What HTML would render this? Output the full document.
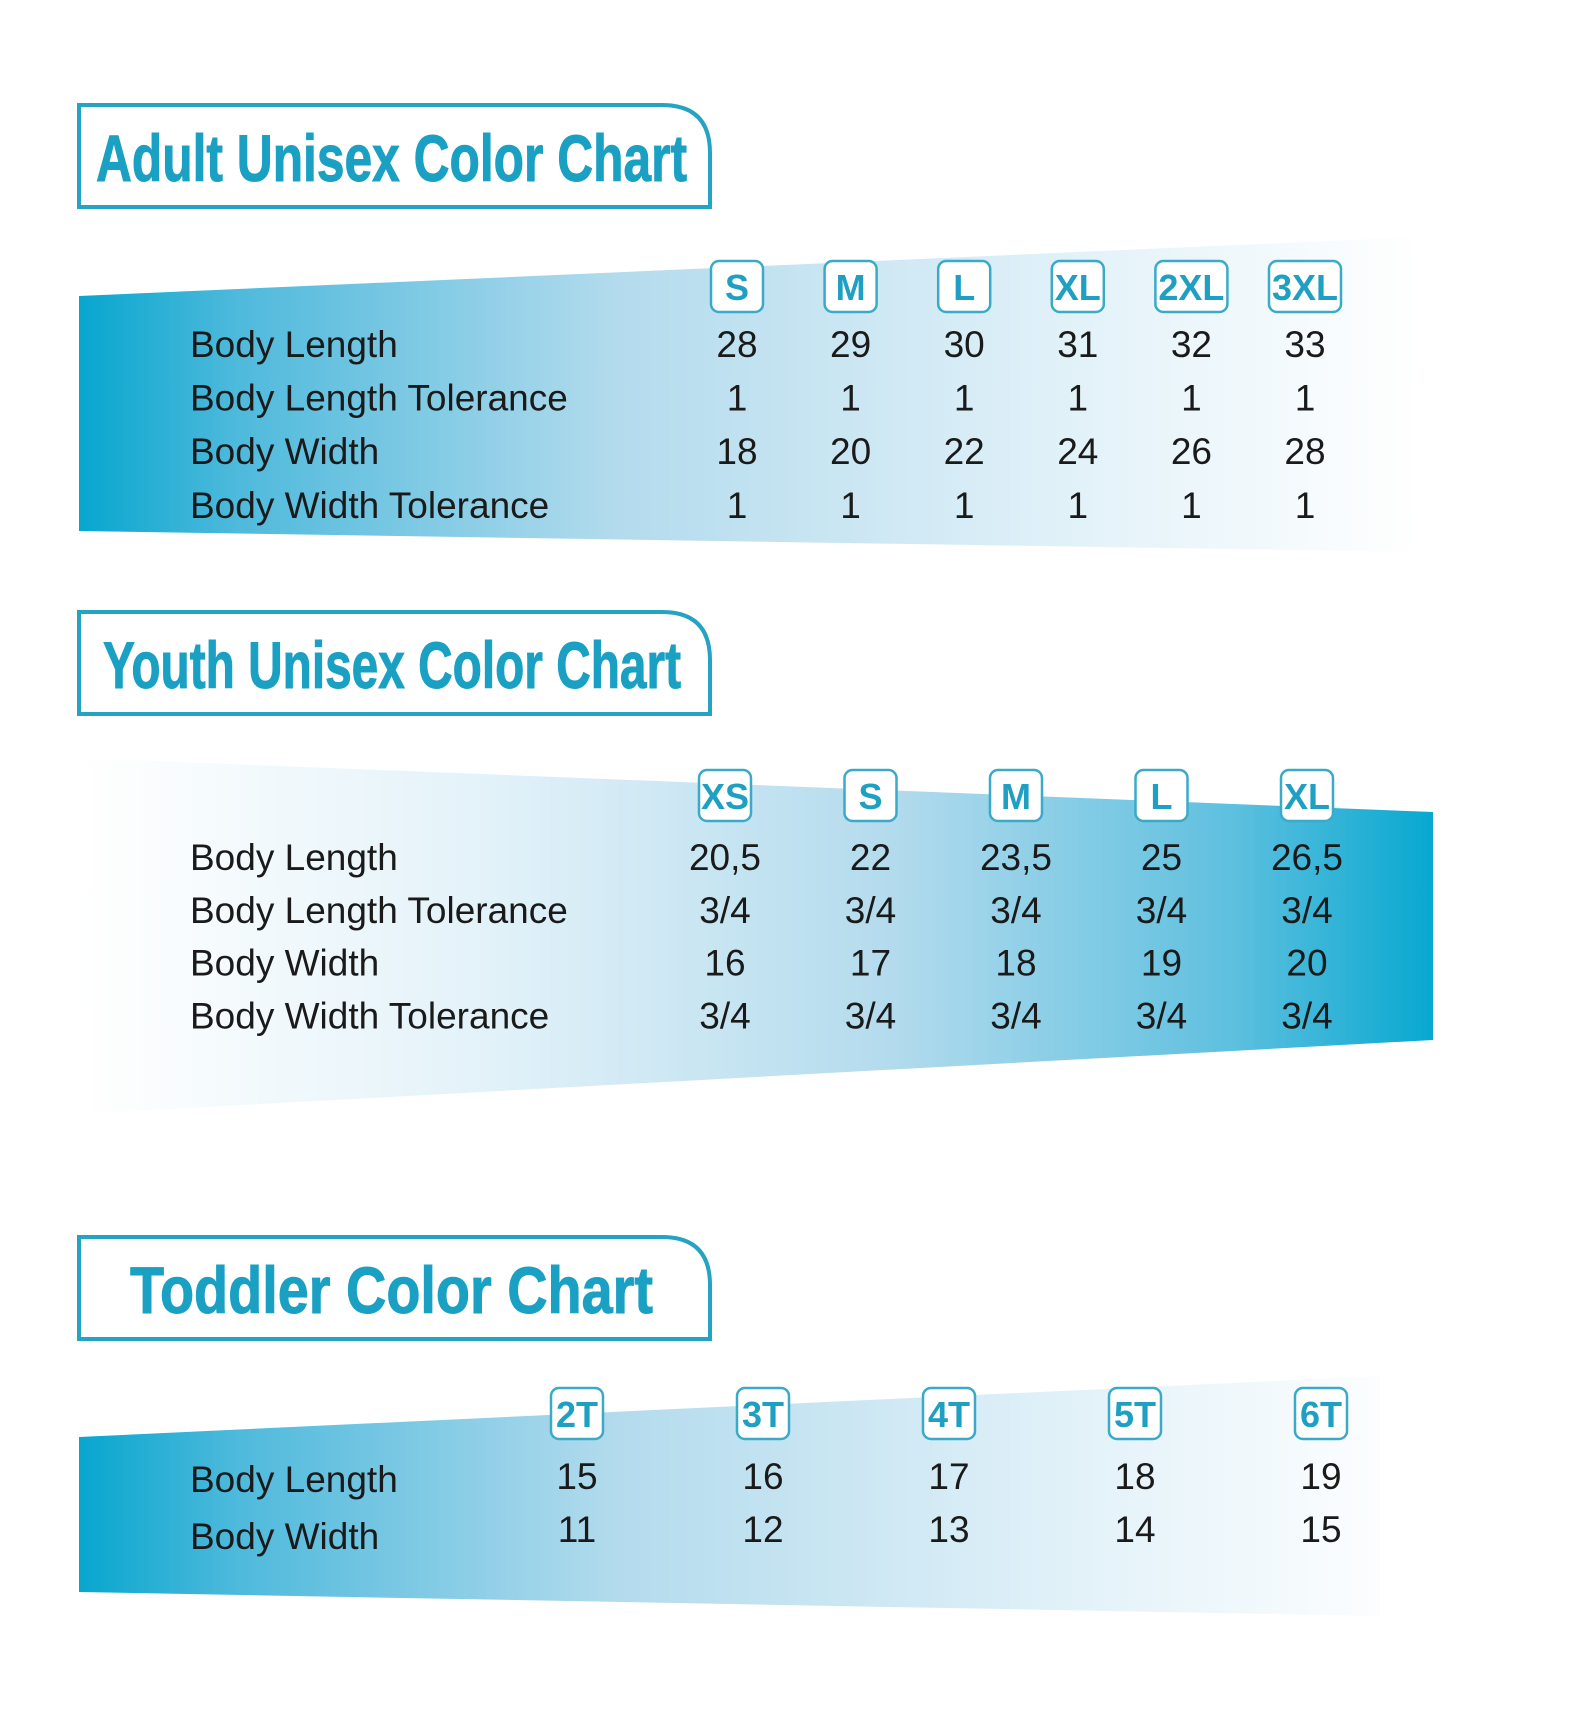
<!DOCTYPE html>
<html><head><meta charset="utf-8"><style>
html,body{margin:0;padding:0;background:#fff;}
svg{display:block;}
.lbl{font-family:"Liberation Sans",sans-serif;font-size:37px;fill:#1a1a1a;}
.val{font-family:"Liberation Sans",sans-serif;font-size:37px;fill:#1a1a1a;text-anchor:middle;}
.bdg{font-family:"Liberation Sans Narrow","Liberation Sans",sans-serif;font-weight:bold;font-size:36px;fill:#1fa0c2;text-anchor:middle;}
.ttl{font-family:"Liberation Sans Narrow","Liberation Sans",sans-serif;font-weight:bold;font-size:66px;fill:#1aa0c2;stroke:#1aa0c2;stroke-width:1;}
</style></head><body>
<svg id="chart" width="1588" height="1727" viewBox="0 0 1588 1727" xmlns="http://www.w3.org/2000/svg">
<defs>
<linearGradient id="gL" x1="79" y1="0" x2="1420" y2="0" gradientUnits="userSpaceOnUse">
<stop offset="0" stop-color="#08a6ce"/><stop offset="0.12" stop-color="#4fbadc"/><stop offset="0.4" stop-color="#b3dbed"/><stop offset="0.75" stop-color="#e3f2f9"/><stop offset="1" stop-color="#ffffff"/></linearGradient>
<linearGradient id="gR" x1="79" y1="0" x2="1433" y2="0" gradientUnits="userSpaceOnUse">
<stop offset="0" stop-color="#ffffff"/><stop offset="0.3" stop-color="#e3f2f9"/><stop offset="0.6" stop-color="#b3dbed"/><stop offset="0.85" stop-color="#5fc0df"/><stop offset="1" stop-color="#08a8d0"/></linearGradient>
</defs>
<g id="root"></g>
</svg>
<script>
const rowLabels1 = ["Body Length","Body Length Tolerance","Body Width","Body Width  Tolerance"];
const sizes1 = ["S","M","L","XL","2XL","3XL"];
const bodyLength1 = ["28","29","30","31","32","33"];
const lengthTol1 = ["1","1","1","1","1","1"];
const bodyWidth1 = ["18","20","22","24","26","28"];
const widthTol1 = ["1","1","1","1","1","1"];

const rowLabels2 = ["Body Length","Body Length Tolerance","Body Width","Body Width  Tolerance"];
const sizes2 = ["XS","S","M","L","XL"];
const bodyLength2 = ["20,5","22","23,5","25","26,5"];
const lengthTol2 = ["3/4","3/4","3/4","3/4","3/4"];
const bodyWidth2 = ["16","17","18","19","20"];
const widthTol2 = ["3/4","3/4","3/4","3/4","3/4"];

const rowLabels3 = ["Body Length","Body Width"];
const sizes3 = ["2T","3T","4T","5T","6T"];
const bodyLength3 = ["15","16","17","18","19"];
const bodyWidth3 = ["11","12","13","14","15"];

const NS="http://www.w3.org/2000/svg";
const root=document.getElementById('root');
function mk(tag,attrs,parent,text){const e=document.createElementNS(NS,tag);for(const k in attrs)e.setAttribute(k,attrs[k]);if(text!==undefined)e.textContent=text;(parent||root).appendChild(e);return e;}

function titleBox(y,title,tx,tlen,name){
  const g=mk('g',{});
  
  
  const x0=79,x1=710,h=102,r=48;
  mk('path',{d:`M${x0} ${y} H${x1-r} Q${x1} ${y} ${x1} ${y+r} V${y+h} H${x0} Z`,fill:'#fff',stroke:'#25a3c3','stroke-width':4},g);
  mk('text',{class:'ttl',x:tx,y:y+76,textLength:tlen,lengthAdjust:'spacingAndGlyphs'},g,title);
}

function table(opt){
  const g=mk('g',{});
  
  
  const band=mk('polygon',{points:opt.band,fill:opt.fill},g);
  
  
  const xs=i=>opt.x0+i*opt.step;
  opt.sizes.forEach((s,i)=>{
    const w=Math.max(52,s.length*22+6);
    const b=mk('g',{},g);
    
    
    mk('rect',{x:xs(i)-w/2,y:opt.by,width:w,height:51,rx:8,fill:'#fff',stroke:'#3aaac8','stroke-width':2.5},b);
    mk('text',{class:'bdg',x:xs(i),y:opt.by+39},b,s);
  });
  opt.rows.forEach((vals,r)=>{
    const y=opt.ry[0]+r*opt.rstep;
    const l=mk('text',{class:'lbl',x:190,y:y+(opt.lblOff?opt.lblOff[r]:0)},g,opt.labels[r]);
    
    
    vals.forEach((v,i)=>{
      const t=mk('text',{class:'val',x:xs(i),y:y},g,v);
      
      
    });
  });
}

titleBox(105,"Adult Unisex Color Chart",96,591,'adult');
table({name:'adult',band:'79,296 1420,237 1420,552 79,531',fill:'url(#gL)',sizes:sizes1,x0:737,step:113.6,by:261,
  rows:[bodyLength1,lengthTol1,bodyWidth1,widthTol1],labels:rowLabels1,ry:[357],rstep:53.6});

titleBox(612,"Youth Unisex Color Chart",103,578,'youth');
table({name:'youth',band:'79,758 1433,812 1433,1040 79,1114',fill:'url(#gR)',sizes:sizes2,x0:725,step:145.5,by:770,
  rows:[bodyLength2,lengthTol2,bodyWidth2,widthTol2],labels:rowLabels2,ry:[870],rstep:52.8});

titleBox(1237,"Toddler  Color  Chart",130,523,'toddler');
table({name:'toddler',band:'79,1437 1380,1376 1380,1616 79,1592',fill:'url(#gL)',sizes:sizes3,x0:577,step:186,by:1388,
  rows:[bodyLength3,bodyWidth3],labels:rowLabels3,ry:[1489],rstep:53,lblOff:[3,7]});
</script>
</body></html>
